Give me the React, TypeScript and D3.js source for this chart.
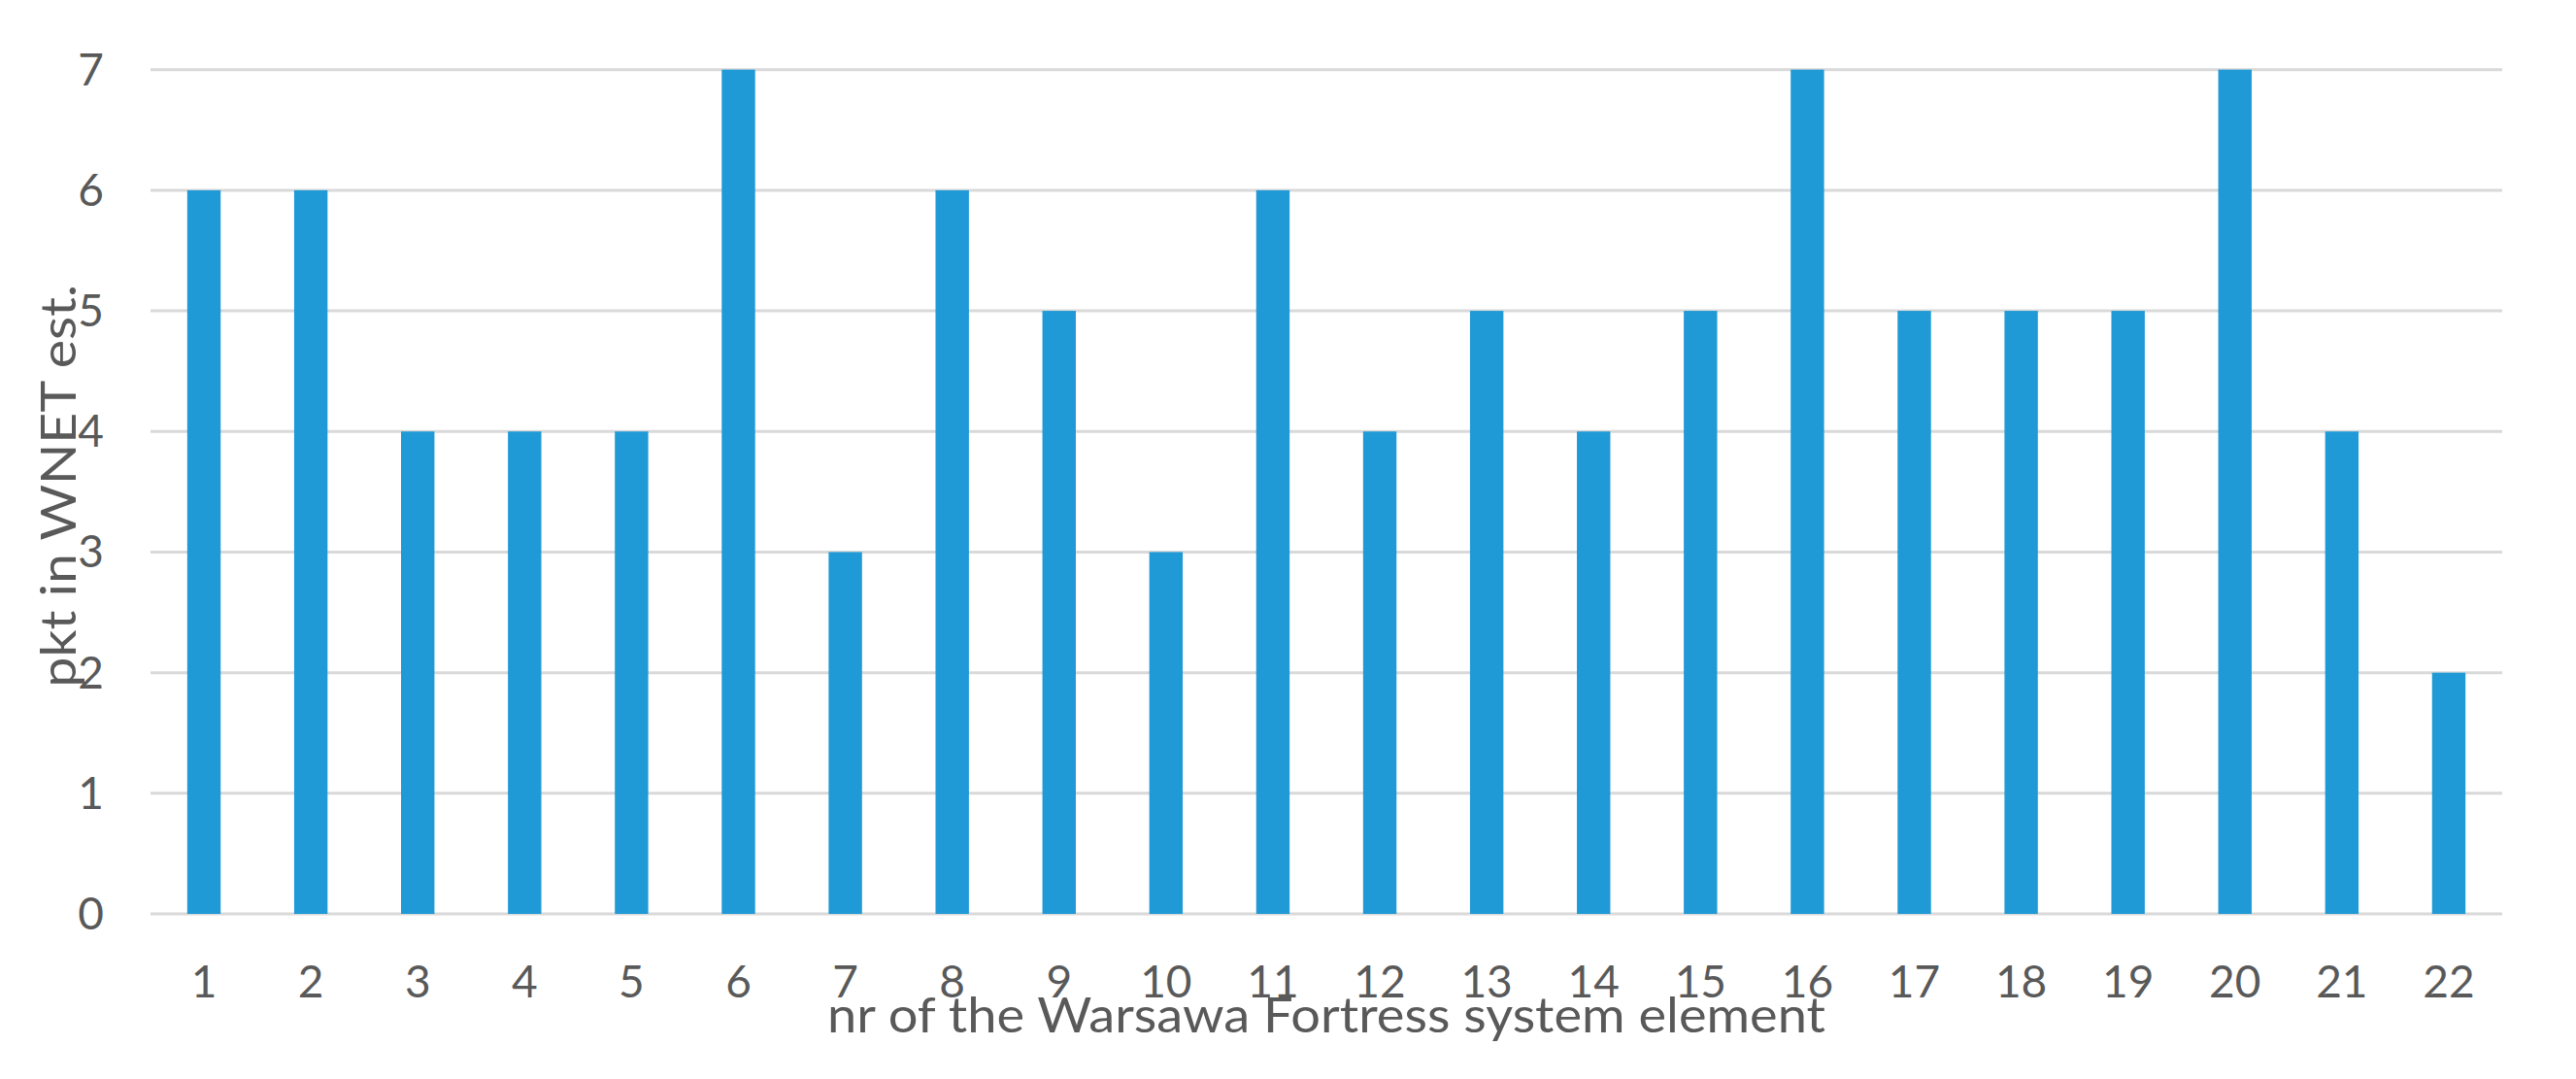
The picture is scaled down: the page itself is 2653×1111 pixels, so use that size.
import React from "react";
import * as d3 from "d3";

const categories: string[] = ["1","2","3","4","5","6","7","8","9","10","11","12","13","14","15","16","17","18","19","20","21","22"];
const values: number[] = [6,6,4,4,4,7,3,6,5,3,6,4,5,4,5,7,5,5,5,7,4,2];
const yTicks: number[] = [0,1,2,3,4,5,6,7];
const xTitle = "nr of the Warsawa Fortress system element";
const yTitle = "pkt in WNET est.";

const W = 2653;
const H = 1111;
const left = 155;
const right = 2577;
const top = 71.7;
const bottom = 941;
const FONT = "Lato, 'Open Sans', sans-serif";
const TEXT = "#595959";
const GRID = "#d9d9d9";
const BAR = "#1f9ad6";

export default function App() {
  const x = d3.scaleBand<string>().domain(categories).range([left, right]).paddingInner(0.6875).paddingOuter(0.34375);
  const y = d3.scaleLinear().domain([0, 7]).range([bottom, top]);
  const cx = (c: string) => (x(c) as number) + x.bandwidth() / 2;
  return (
    <svg width={W} height={H} style={{ position: "absolute", left: 0, top: 0, background: "#fff" }} fontFamily={FONT}>
      <rect x={0} y={0} width={W} height={H} fill="#fff" />
      {yTicks.map((t) => (
        <line key={"g" + t} x1={left} x2={right} y1={y(t)} y2={y(t)} stroke={GRID} strokeWidth={3} />
      ))}
      {categories.map((c, i) => (
        <rect key={"b" + c} x={x(c)} y={y(values[i])} width={x.bandwidth()} height={y(0) - y(values[i])} fill={BAR} />
      ))}
      {yTicks.map((t) => (
        <text key={"yt" + t} x={107} y={y(t) + 16} textAnchor="end" fontSize={46} fill={TEXT}>{t}</text>
      ))}
      {categories.map((c) => (
        <text key={"xt" + c} x={cx(c)} y={1027} textAnchor="middle" fontSize={46} fill={TEXT}>{c}</text>
      ))}
      <text x={(left + right) / 2} y={1063} textAnchor="middle" fontSize={50} fill={TEXT} textLength={1028} lengthAdjust="spacingAndGlyphs">{xTitle}</text>
      <text transform={`translate(78, ${(top + bottom) / 2 - 6}) rotate(-90)`} textAnchor="middle" fontSize={50} fill={TEXT} textLength={415} lengthAdjust="spacingAndGlyphs">{yTitle}</text>
    </svg>
  );
}
